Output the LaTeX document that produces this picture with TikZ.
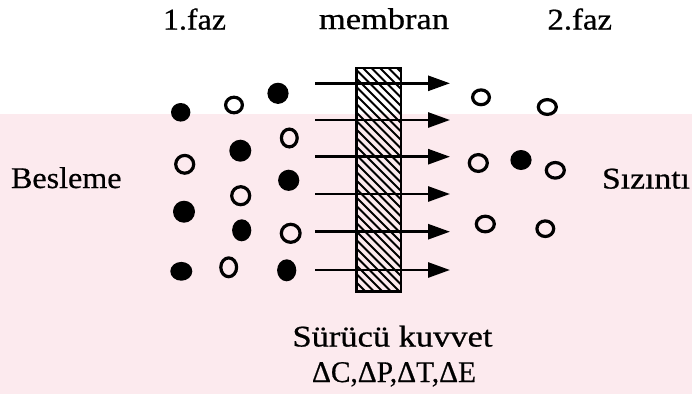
\documentclass[tikz,border=0pt]{standalone}
\usepackage{fontspec}
\setmainfont{Liberation Serif}
\newfontfamily\lblfont[FakeBold=0.6]{Liberation Serif}
\usetikzlibrary{arrows.meta}
\definecolor{wm}{RGB}{252,234,238}
\newcommand\fitw[2]{\resizebox{#1}{\height}{#2}}
\begin{document}
\begin{tikzpicture}[x=1pt,y=-1pt,
  hollow/.style={draw=black,line width=3.2pt,fill=none},
  lbl/.style={anchor=base west,inner sep=0pt,outer sep=0pt,font=\lblfont\fontsize{30}{32}\selectfont},
  flow/.style={line width=2.8pt,-{Triangle[length=22pt,width=15pt]}},
  membox/.style={draw=black,line width=2.8pt,minimum width=44.7pt,minimum height=223.3pt,inner sep=0pt}
]
\useasboundingbox (0,0) rectangle (692,394);
% watermark background
\fill[wm] (0,114) rectangle (692,394);

% membrane with hatching
\begin{scope}
  \clip (356.3,68) rectangle (401,291.3);
  \foreach \a in {100,108.5,...,410} \draw[line width=1.8pt] (\a,60) -- (\a+240,300);
\end{scope}
\node[membox] (mem) at (378.65,179.65) {};

% filled circles (x, y, rx, ry)
\foreach \x/\y/\rx/\ry in {180.7/112.3/9.7/9.3, 278/93.3/10.6/10.6, 240.3/150.7/11/11,
  288.7/180.3/10.6/10.6, 184/211.7/11/11, 241.7/230.3/9.6/11, 181.3/271.3/11/9.4,
  286.7/270.3/9.6/11, 521/160/10.6/10}
  \fill[black] (\x,\y) ellipse [x radius=\rx, y radius=\ry];

% open circles (x, y, outer w/2, outer h/2)
\foreach \x/\y/\rx/\ry in {234/105/10/9.4, 289.3/138/9.5/10.5, 184.7/164.3/10.6/10.5,
  240.7/195.7/10.6/10.6, 290.7/233.3/11/10.6, 228.7/267.3/9.5/11,
  481/97.3/10/9, 547.3/107/10.6/9, 478.3/163/10.6/10, 555.3/170.3/10.6/9.4,
  485.3/224/10.6/9.4, 545.3/228.7/10/9.4}
  \draw[hollow] (\x,\y) ellipse [x radius=\rx-1.6, y radius=\ry-1.6];

% arrows through the membrane
\foreach \i/\y in {1/83.3,2/120,3/156.7,4/194,5/231.7,6/270}{
  \coordinate (s\i) at (315,\y);
  \coordinate (e\i) at (450,\y);
  \draw[flow] (s\i) -- (e\i);
}

% labels
\node[lbl] (faz1) at (163,29.5) {\fitw{63pt}{1.faz}};
\node[lbl] (memb) at (319,29) {\fitw{130pt}{membran}};
\node[lbl] (faz2) at (547.5,29.5) {\fitw{64.5pt}{2.faz}};
\node[lbl] (besl) at (11,188) {\fitw{110.5pt}{Besleme}};
\node[lbl] (sizi) at (602,188.5) {\fitw{88pt}{Sızıntı}};
\node[lbl] (suru) at (292.5,346.5) {\fitw{200pt}{Sürücü kuvvet}};
\node[lbl] (delt) at (312,382) {\fitw{164pt}{ΔC,ΔP,ΔT,ΔE}};
\end{tikzpicture}
\end{document}
